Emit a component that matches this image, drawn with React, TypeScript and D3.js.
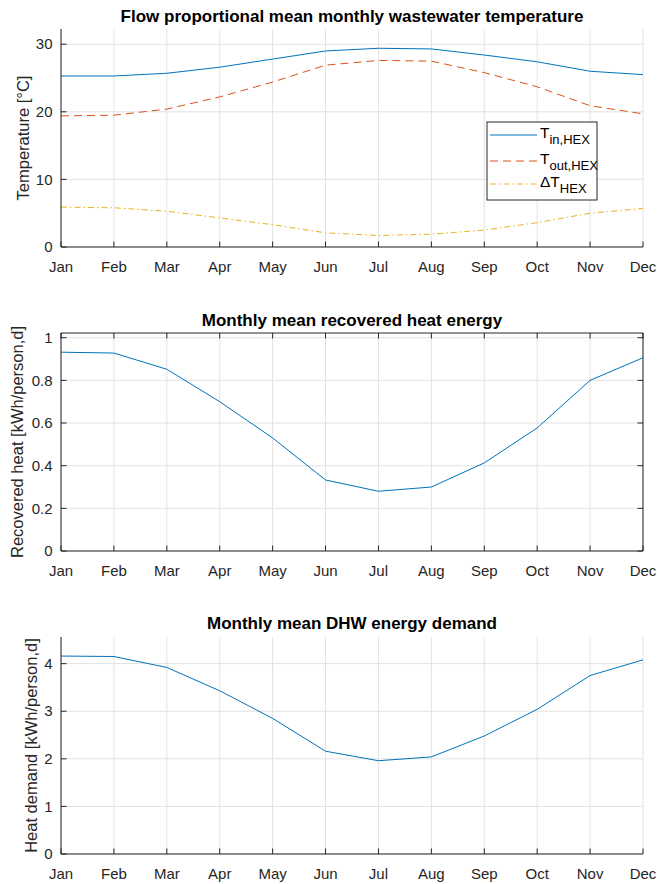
import React from "react";
import * as d3 from "d3";

const months = ["Jan","Feb","Mar","Apr","May","Jun","Jul","Aug","Sep","Oct","Nov","Dec"];
const tIn = [25.3, 25.3, 25.7, 26.6, 27.8, 29.0, 29.4, 29.3, 28.4, 27.4, 26.0, 25.5];
const tOut = [19.4, 19.5, 20.4, 22.2, 24.4, 26.9, 27.6, 27.5, 25.8, 23.7, 20.9, 19.7];
const dT = [5.9, 5.8, 5.3, 4.3, 3.3, 2.1, 1.7, 1.9, 2.5, 3.6, 5.0, 5.7];
const recovered = [0.932, 0.928, 0.852, 0.70, 0.53, 0.333, 0.28, 0.30, 0.413, 0.577, 0.80, 0.906];
const demand = [4.16, 4.15, 3.92, 3.43, 2.85, 2.16, 1.96, 2.04, 2.48, 3.04, 3.75, 4.08];

const ticksTemp = [0, 10, 20, 30];
const ticksRec = [0, 0.2, 0.4, 0.6, 0.8, 1];
const ticksDem = [0, 1, 2, 3, 4];

const FONT = "'Liberation Sans', Arial, Helvetica, sans-serif";
const AX = "#262626";
const GRID = "#e2e2e2";
const C1 = "#0072BD";
const C2 = "#D95319";
const C3 = "#EDB120";

type Series = { values: number[]; color: string; dash?: string };

function Panel(props: {
  top: number; bottom: number; yMax: number; ticks: number[]; fmt: (v: number) => string;
  title: string; ylabel: string; ylabelX: number; titleY: number; box: boolean; series: Series[];
  children?: React.ReactNode;
}) {
  const { top, bottom, yMax, ticks, fmt, title, ylabel, ylabelX, titleY, box, series } = props;
  const left = 61, right = 643;
  const x = d3.scalePoint<string>().domain(months).range([left, right]);
  const y = d3.scaleLinear().domain([0, yMax]).range([bottom, top]);
  const tl = 5.5;
  return (
    <g>
      {months.map((m) => (
        <line key={"gx" + m} x1={x(m)} x2={x(m)} y1={top} y2={bottom} stroke={GRID} strokeWidth={1} />
      ))}
      {ticks.map((t) => (
        <line key={"gy" + t} x1={left} x2={right} y1={y(t)} y2={y(t)} stroke={GRID} strokeWidth={1} />
      ))}
      {series.map((s, i) => {
        const line = d3.line<number>().x((_, j) => x(months[j])!).y((v) => y(v));
        return (
          <path key={"s" + i} d={line(s.values)!} fill="none" stroke={s.color} strokeWidth={1}
            strokeDasharray={s.dash} />
        );
      })}
      <line x1={left} x2={left} y1={top} y2={bottom} stroke={AX} strokeWidth={1} />
      <line x1={left} x2={right} y1={bottom} y2={bottom} stroke={AX} strokeWidth={1} />
      {box && <line x1={left} x2={right} y1={top} y2={top} stroke={AX} strokeWidth={1} />}
      {box && <line x1={right} x2={right} y1={top} y2={bottom} stroke={AX} strokeWidth={1} />}
      {months.map((m) => (
        <g key={"tx" + m}>
          <line x1={x(m)} x2={x(m)} y1={bottom} y2={bottom - tl} stroke={AX} strokeWidth={1} />
          {box && <line x1={x(m)} x2={x(m)} y1={top} y2={top + tl} stroke={AX} strokeWidth={1} />}
          <text x={x(m)} y={bottom + 25} textAnchor="middle" fontSize={15} fill={AX} fontFamily={FONT}>{m}</text>
        </g>
      ))}
      {ticks.map((t) => (
        <g key={"ty" + t}>
          <line x1={left} x2={left + tl} y1={y(t)} y2={y(t)} stroke={AX} strokeWidth={1} />
          {box && <line x1={right} x2={right - tl} y1={y(t)} y2={y(t)} stroke={AX} strokeWidth={1} />}
          <text x={left - 8.5} y={y(t)} dy="0.35em" textAnchor="end" fontSize={15} fill={AX} fontFamily={FONT}>{fmt(t)}</text>
        </g>
      ))}
      <text x={(left + right) / 2} y={titleY} textAnchor="middle" fontSize={17} fontWeight="bold" fill="#000" fontFamily={FONT}>{title}</text>
      <text transform={`translate(${ylabelX},${(top + bottom) / 2}) rotate(-90)`} textAnchor="middle" fontSize={16.5} fill={AX} fontFamily={FONT}>{ylabel}</text>
      {props.children}
    </g>
  );
}

function Legend() {
  const x0 = 487, y0 = 122, w = 110, h = 78;
  const items = [
    { color: C1, dash: undefined as string | undefined, main: "T", sub: "in,HEX", yy: 135 },
    { color: C2, dash: "8,5", main: "T", sub: "out,HEX", yy: 161 },
    { color: C3, dash: "6,3,1.5,3", main: "\u0394T", sub: "HEX", yy: 184 },
  ];
  return (
    <g>
      <rect x={x0} y={y0} width={w} height={h} fill="#fff" stroke={AX} strokeWidth={1} />
      {items.map((it, i) => (
        <g key={i}>
          <line x1={490} x2={537} y1={it.yy} y2={it.yy} stroke={it.color} strokeWidth={1} strokeDasharray={it.dash} />
          <text x={540} y={it.yy + 3} fontSize={15.5} fill="#000" fontFamily={FONT}>
            {it.main}
            <tspan fontSize={13} dy="6">{it.sub}</tspan>
          </text>
        </g>
      ))}
    </g>
  );
}

export default function App() {
  return (
    <svg width={657} height={884} style={{ position: "absolute", left: 0, top: 0, background: "#fff" }}>
      <rect width={657} height={884} fill="#fff" />
      <Panel top={29} bottom={247} yMax={32.25} ticks={ticksTemp} fmt={(v) => String(v)}
        title="Flow proportional mean monthly wastewater temperature" ylabel="Temperature [°C]"
        ylabelX={29} titleY={22} box={false}
        series={[{ values: tIn, color: C1 }, { values: tOut, color: C2, dash: "8,5" }, { values: dT, color: C3, dash: "6,3,1.5,3" }]}>
        <Legend />
      </Panel>
      <Panel top={333} bottom={551} yMax={1.022} ticks={ticksRec} fmt={(v) => (v === 0 || v === 1 ? String(v) : d3.format(".1f")(v))}
        title="Monthly mean recovered heat energy" ylabel="Recovered heat [kWh/person,d]"
        ylabelX={23} titleY={326} box={true}
        series={[{ values: recovered, color: C1 }]} />
      <Panel top={637} bottom={854} yMax={4.56} ticks={ticksDem} fmt={(v) => String(v)}
        title="Monthly mean DHW energy demand" ylabel="Heat demand [kWh/person,d]"
        ylabelX={37} titleY={629} box={false}
        series={[{ values: demand, color: C1 }]} />
    </svg>
  );
}
